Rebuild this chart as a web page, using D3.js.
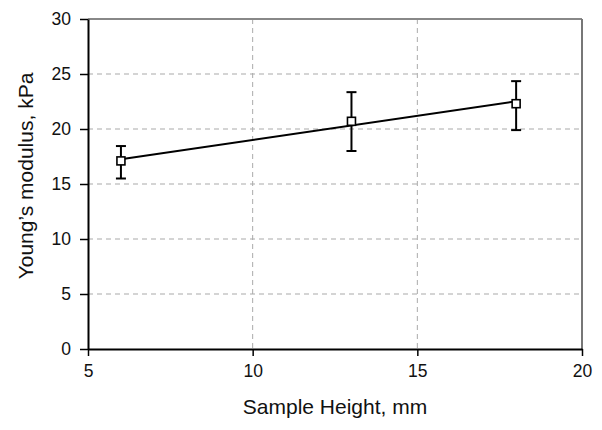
<!DOCTYPE html>
<html>
<head>
<meta charset="utf-8">
<script src="https://cdn.jsdelivr.net/npm/d3@7"></script>
<style>
  body { margin: 0; background: #fff; }
  text { font-family: "Liberation Sans", Arial, sans-serif; }
</style>
</head>
<body>
<div id="chart-container"></div>
<script>
const heights = [6, 13, 18];
const modulus = [17.1, 20.7, 22.3];
const errLow = [15.5, 18.0, 19.9];
const errHigh = [18.45, 23.35, 24.35];
const xTicks = [5, 10, 15, 20];
const yTicks = [0, 5, 10, 15, 20, 25, 30];

const margin = { top: 19, right: 20, bottom: 81, left: 88 };
const width = 602 - margin.left - margin.right;
const height = 430 - margin.top - margin.bottom;

const svg = d3
  .select("#chart-container")
  .append("svg")
  .attr("width", 602)
  .attr("height", 430)
  .append("g")
  .attr("transform", `translate(${margin.left},${margin.top})`);

const x = d3.scaleLinear().domain([5, 20]).range([0, width]);
const y = d3.scaleLinear().domain([0, 30]).range([height, 0]);

// grid
svg
  .append("g")
  .selectAll("line")
  .data(yTicks.filter((d) => d > 0 && d < 30))
  .join("line")
  .attr("x1", 0)
  .attr("x2", width)
  .attr("y1", (d) => y(d))
  .attr("y2", (d) => y(d))
  .attr("stroke", "#aaa")
  .attr("stroke-width", 1.2)
  .attr("stroke-dasharray", "5,4");

svg
  .append("g")
  .selectAll("line")
  .data(xTicks.filter((d) => d > 5 && d < 20))
  .join("line")
  .attr("x1", (d) => x(d))
  .attr("x2", (d) => x(d))
  .attr("y1", 0)
  .attr("y2", height)
  .attr("stroke", "#aaa")
  .attr("stroke-width", 1)
  .attr("stroke-dasharray", "5,4");

// frame top/right
svg.append("line").attr("x1", 0).attr("x2", width).attr("y1", 0).attr("y2", 0)
  .attr("stroke", "#888").attr("stroke-width", 2);
svg.append("line").attr("x1", width).attr("x2", width).attr("y1", 0).attr("y2", height)
  .attr("stroke", "#777").attr("stroke-width", 2);

// axes
const xAxis = svg
  .append("g")
  .attr("transform", `translate(0,${height})`)
  .call(d3.axisBottom(x).tickValues(xTicks).tickSize(7).tickSizeOuter(0).tickPadding(9));
const yAxis = svg
  .append("g")
  .call(d3.axisLeft(y).tickValues(yTicks).tickSize(8).tickSizeOuter(0).tickPadding(9));

[xAxis, yAxis].forEach((a) => {
  a.select(".domain").attr("stroke", "#000").attr("stroke-width", 2);
  a.selectAll(".tick line").attr("stroke", "#000").attr("stroke-width", 1.5);
  a.selectAll(".tick text").attr("font-size", 17.5).attr("fill", "#111")
    .style("font-family", '"Liberation Sans", Arial, sans-serif');
});

// linear trend line fitted to the points
const mx = d3.mean(heights);
const my = d3.mean(modulus);
const slope =
  d3.sum(heights, (h, i) => (h - mx) * (modulus[i] - my)) /
  d3.sum(heights, (h) => (h - mx) * (h - mx));
const fit = (h) => my + slope * (h - mx);
const ends = d3.extent(heights);

svg
  .append("path")
  .datum(ends)
  .attr("fill", "none")
  .attr("stroke", "#000")
  .attr("stroke-width", 2)
  .attr("d", d3.line().x((d) => x(d)).y((d) => y(fit(d))));

// error bars
const pts = heights.map((h, i) => ({ h, v: modulus[i], lo: errLow[i], hi: errHigh[i] }));
const eb = svg.append("g").attr("stroke", "#000").attr("stroke-width", 2);
eb.selectAll(".v").data(pts).join("line")
  .attr("x1", (d) => x(d.h)).attr("x2", (d) => x(d.h))
  .attr("y1", (d) => y(d.lo)).attr("y2", (d) => y(d.hi));
eb.selectAll(".t").data(pts).join("line")
  .attr("x1", (d) => x(d.h) - 5).attr("x2", (d) => x(d.h) + 5)
  .attr("y1", (d) => y(d.hi)).attr("y2", (d) => y(d.hi));
eb.selectAll(".b").data(pts).join("line")
  .attr("x1", (d) => x(d.h) - 5).attr("x2", (d) => x(d.h) + 5)
  .attr("y1", (d) => y(d.lo)).attr("y2", (d) => y(d.lo));

// markers
svg
  .append("g")
  .selectAll("rect")
  .data(pts)
  .join("rect")
  .attr("x", (d) => x(d.h) - 4)
  .attr("y", (d) => y(d.v) - 4)
  .attr("width", 8)
  .attr("height", 8)
  .attr("fill", "#fff")
  .attr("stroke", "#000")
  .attr("stroke-width", 1.6);

// titles
svg
  .append("text")
  .attr("x", width / 2)
  .attr("y", height + 65)
  .attr("text-anchor", "middle")
  .attr("font-size", 21)
  .attr("fill", "#111")
  .text("Sample Height, mm");

svg
  .append("text")
  .attr("transform", `translate(-55,${height / 2 - 8}) rotate(-90)`)
  .attr("text-anchor", "middle")
  .attr("font-size", 21)
  .attr("fill", "#111")
  .text("Young\u2019s modulus, kPa");
</script>
</body>
</html>
